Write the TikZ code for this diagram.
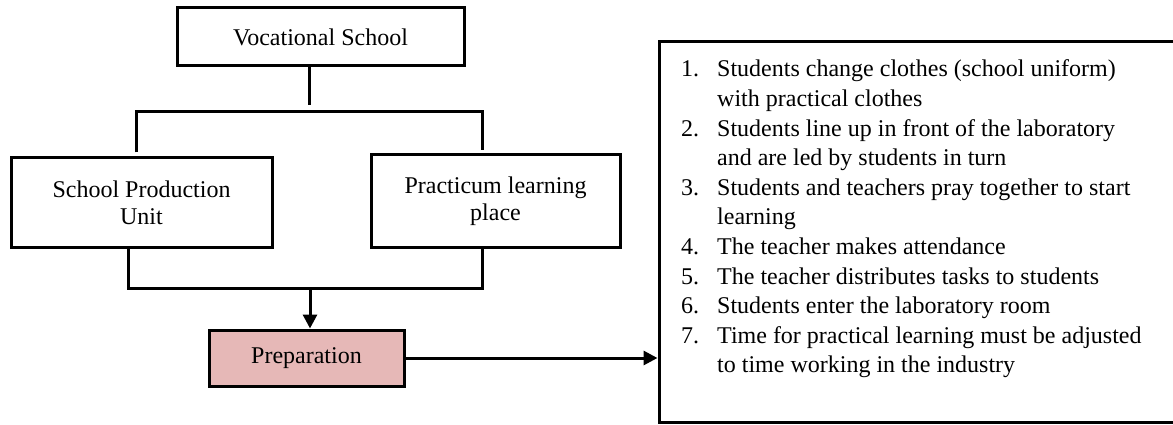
\documentclass[tikz,border=0pt]{standalone}
\usepackage{fontspec}
\setmainfont{Liberation Serif}
\usetikzlibrary{arrows.meta}
\definecolor{prepfill}{HTML}{E6B8B7}
\begin{document}
\begin{tikzpicture}[x=1pt,y=-1pt,
  box/.style={draw, line width=3pt, rectangle, inner sep=0pt, align=center,
    font=\fontsize{24}{27}\selectfont},
  conn/.style={line width=3pt},
  arr/.style={line width=3pt, -{Triangle[length=14pt,width=14pt]}}]
\useasboundingbox (0,0) rectangle (1173,425);
\node[box, minimum width=287pt, minimum height=58pt] (vs) at (320.5,37) {Vocational School};
\node[box, minimum width=261pt, minimum height=89pt] (spu) at (141.5,202.5) {School Production\\Unit};
\node[box, minimum width=249pt, minimum height=92pt] (plp) at (495.5,201) {Practicum learning\\place};
\node[box, fill=prepfill, minimum width=195pt, minimum height=56pt] (prep) at (306.5,358) {Preparation};
\node[box, minimum width=540pt, minimum height=380pt] (list) at (929,232) {};
\node[anchor=base west, inner sep=0pt] (items) at (681,77) {\parbox[t]{480pt}{\fontsize{24}{29.6}\selectfont\raggedright
\makebox[36pt][l]{1.}Students change clothes (school uniform)\\
\hspace*{36pt}with practical clothes\\
\makebox[36pt][l]{2.}Students line up in front of the laboratory\\
\hspace*{36pt}and are led by students in turn\\
\makebox[36pt][l]{3.}Students and teachers pray together to start\\
\hspace*{36pt}learning\\
\makebox[36pt][l]{4.}The teacher makes attendance\\
\makebox[36pt][l]{5.}The teacher distributes tasks to students\\
\makebox[36pt][l]{6.}Students enter the laboratory room\\
\makebox[36pt][l]{7.}Time for practical learning must be adjusted\\
\hspace*{36pt}to time working in the industry}};
\coordinate (stem) at (309,105);
\coordinate (tl) at (136,112);
\coordinate (tr) at (482,112);
\coordinate (bl) at (128,288);
\coordinate (br) at (482,288);
\coordinate (mid) at (310,288);
\draw[conn] (vs.south -| stem) -- (stem);
\draw[conn] ([yshift=4pt]spu.north -| tl) -- (tl) -- (tr) -- ([yshift=3pt]plp.north -| tr);
\draw[conn] (spu.south -| bl) -- (bl) -- (br) -- (plp.south -| br);
\draw[arr] (mid) -- (prep.north -| mid);
\draw[arr] (prep.east) -- (list.west |- prep.east);
\end{tikzpicture}
\end{document}
